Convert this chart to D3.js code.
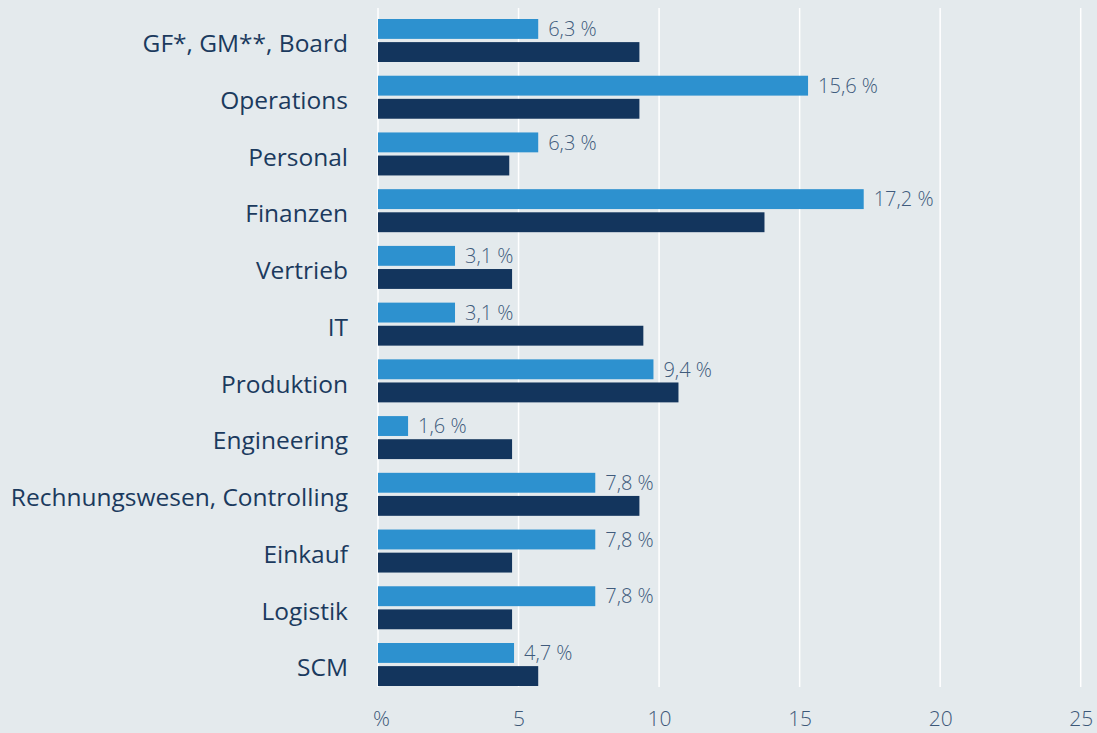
<!DOCTYPE html>
<html>
<head>
<meta charset="utf-8">
<script src="https://cdn.jsdelivr.net/npm/d3@7"></script>
<style>
html,body{margin:0;padding:0;background:#e4eaed;}
svg{display:block;}
</style>
</head>
<body>
<svg id="chart" width="1097" height="733"></svg>
<script>
const categories = ["GF*, GM**, Board","Operations","Personal","Finanzen","Vertrieb","IT","Produktion","Engineering","Rechnungswesen, Controlling","Einkauf","Logistik","SCM"];
const lightValues = [5.7, 15.3, 5.7, 17.28, 2.74, 2.74, 9.8, 1.07, 7.73, 7.73, 7.73, 4.84];
const lightLabels = ["6,3 %","15,6 %","6,3 %","17,2 %","3,1 %","3,1 %","9,4 %","1,6 %","7,8 %","7,8 %","7,8 %","4,7 %"];
const darkValues = [9.3, 9.3, 4.67, 13.75, 4.77, 9.44, 10.69, 4.77, 9.3, 4.77, 4.77, 5.7];
const tickValues = [0, 5, 10, 15, 20, 25];
const tickLabels = ["%", "5", "10", "15", "20", "25"];

const svg = d3.select("#chart");
const x = d3.scaleLinear().domain([0, 25]).range([378, 1080.7]);
const y = d3.scaleBand().domain(categories).range([19, 686]).paddingInner(0.242).paddingOuter(0);
const inner = d3.scaleBand().domain(["light","dark"]).range([0, y.bandwidth()]).paddingInner(0.14);

// gridlines
svg.append("g").selectAll("line").data(tickValues).join("line")
  .attr("x1", d => x(d)).attr("x2", d => x(d))
  .attr("y1", 8).attr("y2", 687)
  .attr("stroke", "#ffffff").attr("stroke-width", 1.5);

// tick labels via axis
const axis = d3.axisBottom(x).tickValues(tickValues).tickFormat((d,i) => tickLabels[i]).tickSize(0).tickPadding(0);
const ag = svg.append("g").attr("transform", "translate(0,711)").call(axis);
ag.select(".domain").remove();
ag.selectAll("text").attr("fill", "#3d5878").attr("font-family", "'Open Sans', sans-serif")
  .attr("font-size", 21).attr("font-weight", 300).attr("dy", "0.71em");
ag.selectAll(".tick").filter(d => d === 0).select("text").attr("dx", 3);

const rows = svg.append("g").selectAll("g").data(categories).join("g")
  .attr("transform", d => `translate(0,${y(d)})`);

rows.append("rect")
  .attr("x", x(0)).attr("y", inner("light"))
  .attr("width", (d,i) => x(lightValues[i]) - x(0))
  .attr("height", inner.bandwidth())
  .attr("fill", "#2d91cf");

rows.append("rect")
  .attr("x", x(0)).attr("y", inner("dark"))
  .attr("width", (d,i) => x(darkValues[i]) - x(0))
  .attr("height", inner.bandwidth())
  .attr("fill", "#13355d");

rows.append("text")
  .attr("x", (d,i) => x(lightValues[i]) + 10)
  .attr("y", inner("light") + inner.bandwidth()/2)
  .attr("dy", "0.36em")
  .attr("font-family", "'Open Sans', sans-serif")
  .attr("font-size", 20).attr("font-weight", 300)
  .attr("fill", "#405b7c")
  .text((d,i) => lightLabels[i]);

rows.append("text")
  .attr("x", 348)
  .attr("y", y.bandwidth()/2 + 3)
  .attr("dy", "0.36em")
  .attr("text-anchor", "end")
  .attr("font-family", "'Open Sans', sans-serif")
  .attr("font-size", 24.5)
  .attr("fill", "#1b3a5e")
  .text(d => d);
</script>
</body>
</html>
